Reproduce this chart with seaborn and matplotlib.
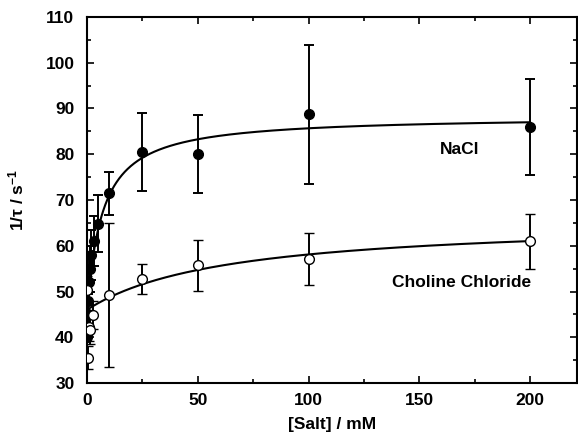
import numpy as np
import pandas as pd
import matplotlib
matplotlib.use('Agg')
import matplotlib.pyplot as plt
import seaborn as sns

# NaCl data (filled circles)
nacl_x = [0.1, 0.25, 0.5, 1.0, 1.5, 2.0, 3.0, 5, 10, 25, 50, 100, 200]
nacl_y = [40.0, 45.0, 48.0, 52.0, 55.0, 58.0, 61.0, 64.8, 71.5, 80.5, 80.0, 88.7, 86.0]
nacl_err = [4.0, 4.5, 4.0, 5.0, 5.0, 5.5, 5.5, 6.2, 4.7, 8.5, 8.5, 15.2, 10.5]

# Choline chloride data (open circles)
chol_x = [0.2, 0.5, 1.0, 1.5, 2.5, 10, 25, 50, 100, 200]
chol_y = [50.3, 35.5, 42.2, 41.6, 44.9, 49.3, 52.8, 55.7, 57.1, 61.0]
chol_err = [3.0, 2.5, 3.0, 3.0, 3.0, 15.7, 3.3, 5.6, 5.6, 6.0]

# fitted hyperbolic curves: y = y0 + a*x/(k+x)
nacl_fit = dict(y0=45.0, a=43.4, k=6.7)
chol_fit = dict(y0=46.0, a=19.8, k=63.6)

sns.set_style('ticks')
plt.rcParams['font.family'] = ['Liberation Sans', 'DejaVu Sans']
plt.rcParams['font.weight'] = 'bold'
plt.rcParams['mathtext.fontset'] = 'custom'
plt.rcParams['mathtext.rm'] = 'Liberation Sans:bold'
plt.rcParams['mathtext.it'] = 'Liberation Sans:bold'
plt.rcParams['mathtext.bf'] = 'Liberation Sans:bold'
for key in ['text.color', 'axes.labelcolor', 'xtick.color', 'ytick.color', 'axes.edgecolor']:
    plt.rcParams[key] = 'black'

fig = plt.figure(figsize=(5.78, 4.41), dpi=100)
ax = fig.add_axes([0.1505, 0.1315, 0.8475, 0.83])

xs = np.linspace(0, 200, 800)
curves = pd.DataFrame({
    'x': np.concatenate([xs, xs]),
    'y': np.concatenate([
        nacl_fit['y0'] + nacl_fit['a'] * xs / (nacl_fit['k'] + xs),
        chol_fit['y0'] + chol_fit['a'] * xs / (chol_fit['k'] + xs)]),
    'salt': ['NaCl'] * len(xs) + ['Choline Chloride'] * len(xs),
})
sns.lineplot(data=curves, x='x', y='y', units='salt', estimator=None,
             color='black', lw=1.5, ax=ax, legend=False)

ax.errorbar(nacl_x, nacl_y, yerr=nacl_err, fmt='o', color='black', ms=7,
            mfc='black', mec='black', elinewidth=1.4, capsize=3.5, capthick=1.4, zorder=3)
ax.errorbar(chol_x, chol_y, yerr=chol_err, fmt='o', color='black', ms=7,
            mfc='white', mec='black', mew=1.0, elinewidth=1.4, capsize=3.5, capthick=1.4, zorder=3)

ax.text(168, 81, 'NaCl', ha='center', va='center', fontsize=12.5, fontweight='bold')
ax.text(169, 52, 'Choline Chloride', ha='center', va='center', fontsize=12.5, fontweight='bold')

ax.set_xlim(0, 221)
ax.set_ylim(30, 110)
ax.set_xticks([0, 50, 100, 150, 200])
ax.set_xticks(np.arange(25, 221, 50), minor=True)
ax.set_yticks(np.arange(30, 111, 10))
ax.set_yticks(np.arange(35, 110, 10), minor=True)
ax.tick_params(which='both', direction='in', top=True, right=True, width=1.2)
ax.tick_params(which='major', length=5, labelsize=12.5)
ax.tick_params(which='minor', length=3)
ax.tick_params(axis='x', pad=7)
ax.tick_params(axis='y', pad=9)
for s in ax.spines.values():
    s.set_linewidth(1.5)

ax.set_xlabel('[Salt] / mM', fontsize=12.5, fontweight='bold', labelpad=7)
ax.set_ylabel(r'1/τ / s$^{-1}$', fontsize=12.5, fontweight='bold', labelpad=14)

fig.savefig('out.png', dpi=100)
